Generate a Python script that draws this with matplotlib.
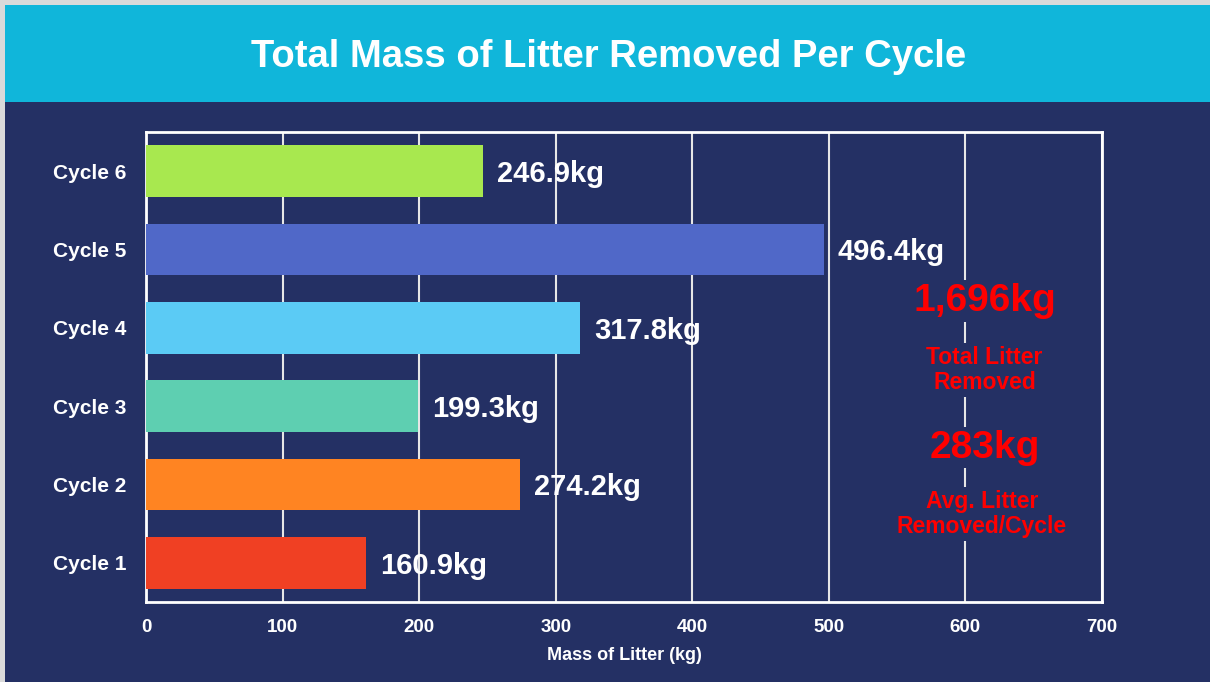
import matplotlib
matplotlib.use("Agg")
import matplotlib.pyplot as plt
from matplotlib.patches import Rectangle

plt.rcParams['font.family'] = ['Liberation Sans', 'DejaVu Sans']
plt.rcParams['font.weight'] = 'bold'

# data
cycles = ['Cycle 1', 'Cycle 2', 'Cycle 3', 'Cycle 4', 'Cycle 5', 'Cycle 6']
mass = [160.9, 274.2, 199.3, 317.8, 496.4, 246.9]
bar_colors = ['#F04023', '#FF8422', '#5ECFB1', '#5BCBF5', '#5068C8', '#A8E84F']
total_txt = '1,696kg'
avg_txt = '283kg'
xticks = [0, 100, 200, 300, 400, 500, 600, 700]

navy = '#243064'
cyan = '#10B6DA'

fig = plt.figure(figsize=(12.1, 6.82), dpi=100)
fig.patch.set_facecolor('#DADADA')
# navy slide background + cyan header band (kept behind the axes)
fig.patches.append(Rectangle((5 / 1210, 0), 1, 1 - 5 / 682, transform=fig.transFigure,
                             facecolor=navy, edgecolor='none', zorder=-2))
fig.patches.append(Rectangle((5 / 1210, 1 - 102 / 682), 1, 97 / 682, transform=fig.transFigure,
                             facecolor=cyan, edgecolor='none', zorder=-1))
fig.text(0.503, 0.917, 'Total Mass of Litter Removed Per Cycle', color='white',
         fontsize=27.5, fontweight='bold', ha='center', va='center')

ax = fig.add_axes([0.1207, 0.1173, 0.790, 0.6892])
ax.set_facecolor(navy)
ypos = list(range(len(cycles)))
ax.barh(ypos, mass, height=0.66, color=bar_colors, zorder=3)

for y, v in zip(ypos, mass):
    ax.annotate(f'{v}kg', (v, y), xytext=(10, 0), textcoords='offset points',
                color='white', fontsize=21, fontweight='bold', ha='left',
                va='center_baseline', zorder=4)

ax.set_xlim(0, 700)
ax.set_ylim(-0.5, 5.5)
ax.set_xticks(xticks)
ax.set_yticks(ypos)
ax.set_yticklabels(cycles)
ax.tick_params(axis='both', length=0, colors='white', labelsize=13.5)
ax.tick_params(axis='y', labelsize=15, pad=14)
ax.tick_params(axis='x', pad=12)
ax.set_xlabel('Mass of Litter (kg)', color='white', fontsize=13, fontweight='bold', labelpad=8)
ax.grid(axis='x', color='#E6E6E6', linewidth=1.5, zorder=1)
ax.set_axisbelow(True)
for s in ax.spines.values():
    s.set_color('white')
    s.set_linewidth(2)

box = dict(facecolor=navy, edgecolor='none', pad=2)
ax.text(614, 3.34, total_txt, color='#FF0000', fontsize=28, fontweight='bold',
        ha='center', va='center', bbox=box, zorder=5)
ax.text(614, 2.46, 'Total Litter\nRemoved', color='#FF0000', fontsize=16.5, fontweight='bold',
        ha='center', va='center', linespacing=1.15, bbox=box, zorder=5)
ax.text(614, 1.47, avg_txt, color='#FF0000', fontsize=28, fontweight='bold',
        ha='center', va='center', bbox=box, zorder=5)
ax.text(612, 0.625, 'Avg. Litter\nRemoved/Cycle', color='#FF0000', fontsize=16.5, fontweight='bold',
        ha='center', va='center', linespacing=1.15, bbox=box, zorder=5)

fig.savefig('out.png', dpi=100, facecolor=fig.get_facecolor())
